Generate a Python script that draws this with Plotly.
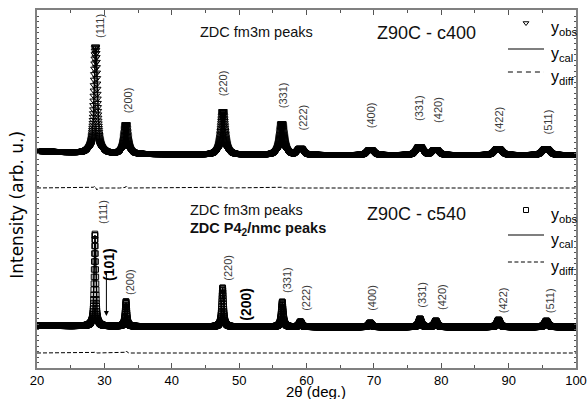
import numpy as np
import plotly.graph_objects as go

# ---------------- data ----------------
two_theta = np.round(np.arange(20.0, 100.0001, 0.02), 4)

hkl_labels = ["(111)", "(200)", "(220)", "(331)", "(222)", "(400)", "(331)", "(420)", "(422)", "(511)"]

# Z90C - c400 : peak positions (deg), heights (arb. u.), FWHM (deg)
c400_pos = [28.70, 33.20, 47.60, 56.35, 59.10, 69.50, 76.80, 79.15, 88.45, 95.55]
c400_height = [106, 27, 42, 30, 6, 5, 8, 5, 6, 6]
c400_fwhm = [0.50, 0.60, 0.65, 0.70, 0.75, 0.85, 0.85, 0.85, 0.95, 0.95]
c400_bg = [213.5, 4.0, 10.0]          # level, low-angle excess, decay (deg)
c400_resid = [(28.55, 2.0, 0.15), (28.85, -2.0, 0.15), (33.25, 2.0, 0.12), (47.6, 0.8, 0.2), (56.3, 0.8, 0.2)]

# Z90C - c540
c540_pos = [28.60, 33.20, 47.55, 56.40, 59.10, 69.45, 76.85, 79.20, 88.50, 95.60]
c540_height = [91, 24, 39, 25, 5, 4, 8, 6, 7, 6]
c540_fwhm = [0.30, 0.32, 0.35, 0.38, 0.45, 0.50, 0.50, 0.50, 0.55, 0.60]
c540_bg = [41.0, 1.5, 15.0]
c540_resid = [(28.6, 1.2, 0.12), (33.3, 2.0, 0.1)]

# stacking offsets of the difference curves
c400_diff_level = 180
c540_diff_level = 15


def pseudo_voigt(x, pos, height, fwhm, eta=0.75):
    y = np.zeros_like(x)
    for p, h, w in zip(pos, height, fwhm):
        u = (x - p) / (w / 2.0)
        y += h * (eta / (1.0 + u * u) + (1 - eta) * np.exp(-np.log(2) * u * u))
    return y


def background(x, bg):
    level, excess, tau = bg
    return level + excess * np.exp(-(x - 20.0) / tau)


def residual(x, items):
    r = np.zeros_like(x)
    for p, a, w in items:
        r += a * np.exp(-((x - p) / w) ** 2)
    return r


c400_cal = background(two_theta, c400_bg) + pseudo_voigt(two_theta, c400_pos, c400_height, c400_fwhm)
c400_res = residual(two_theta, c400_resid)
c400_obs = c400_cal + c400_res

c540_cal = background(two_theta, c540_bg) + pseudo_voigt(two_theta, c540_pos, c540_height, c540_fwhm)
c540_res = residual(two_theta, c540_resid)
c540_obs = c540_cal + c540_res

# ---------------- figure ----------------
FONT = "Liberation Sans"
fig = go.Figure()

for cal, obs, res, lvl, sym, msize in [
    (c400_cal, c400_obs, c400_res, c400_diff_level, "triangle-down-open", 7),
    (c540_cal, c540_obs, c540_res, c540_diff_level, "square-open", 5.5),
]:
    fig.add_trace(go.Scatter(x=two_theta, y=res + lvl, mode="lines",
                             line=dict(color="black", width=1, dash="4px,2px"), hoverinfo="skip"))
    fig.add_trace(go.Scatter(x=two_theta, y=cal, mode="lines",
                             line=dict(color="black", width=1.5), hoverinfo="skip"))
    fig.add_trace(go.Scatter(x=two_theta, y=obs, mode="markers",
                             marker=dict(symbol=sym, size=msize, color="black",
                                         line=dict(color="black", width=1)),
                             hoverinfo="skip"))

annotations = []

# hkl labels: (x position, bottom of the rotated label)
c400_label_x = [29.35, 33.55, 47.65, 56.55, 59.55, 69.6, 76.7, 79.5, 88.5, 95.7]
c400_label_y = [328, 253, 270, 258, 236, 238, 245, 243, 233, 231]
c540_label_x = [29.8, 33.8, 48.3, 57.1, 59.9, 69.7, 77.1, 80.1, 89.2, 96.1]
c540_label_y = [142, 71, 85, 73, 55, 55, 58, 56, 53, 53]

for xs, ys in [(c400_label_x, c400_label_y), (c540_label_x, c540_label_y)]:
    for lab, lx, ly in zip(hkl_labels, xs, ys):
        annotations.append(dict(x=lx, y=ly, text=lab, showarrow=False, textangle=-90,
                                xanchor="center", yanchor="bottom",
                                font=dict(family=FONT, size=11, color="#3a3a3a")))

# tetragonal reflections
annotations.append(dict(x=30.6, y=85, text="<b>(101)</b>", showarrow=False, textangle=-90,
                        xanchor="center", yanchor="bottom",
                        font=dict(family=FONT, size=14, color="black")))
annotations.append(dict(x=30.3, y=52, ax=30.3, ay=98, xref="x", yref="y", axref="x", ayref="y",
                        text="", showarrow=True, arrowhead=2, arrowsize=1, arrowwidth=1,
                        arrowcolor="black"))
annotations.append(dict(x=50.9, y=45, text="<b>(200)</b>", showarrow=False, textangle=-90,
                        xanchor="center", yanchor="bottom",
                        font=dict(family=FONT, size=14, color="black")))

# phase / sample captions
annotations += [
    dict(x=43.9, y=336, text="ZDC fm3m peaks", showarrow=False, xanchor="left", yanchor="middle",
         font=dict(family=FONT, size=14.5, color="#111")),
    dict(x=70.15, y=335, text="Z90C - c400", showarrow=False, xanchor="left", yanchor="middle",
         font=dict(family=FONT, size=18, color="#111")),
    dict(x=42.4, y=158, text="ZDC fm3m peaks", showarrow=False, xanchor="left", yanchor="middle",
         font=dict(family=FONT, size=14.5, color="#111")),
    dict(x=42.4, y=139, text="<b>ZDC P4<sub>2</sub>/nmc peaks</b>", showarrow=False,
         xanchor="left", yanchor="middle", font=dict(family=FONT, size=14.5, color="#111")),
    dict(x=68.7, y=154, text="Z90C - c540", showarrow=False, xanchor="left", yanchor="middle",
         font=dict(family=FONT, size=18, color="#111")),
]

# legends
legend_sets = [
    dict(sym="triangle-down-open", obs_y=345, cal_y=319, diff_y=296, text_dy=-5, dash="5px,4px"),
    dict(sym="square-open", obs_y=158, cal_y=133, diff_y=106, text_dy=-5, dash="4px,2.5px"),
]
shapes = []
for lg in legend_sets:
    fig.add_trace(go.Scatter(x=[92.58], y=[lg["obs_y"]], mode="markers",
                             marker=dict(symbol=lg["sym"], size=5, color="black",
                                         line=dict(color="black", width=1)), hoverinfo="skip"))
    shapes.append(dict(type="line", xref="x", yref="y", x0=89.9, x1=95.25,
                       y0=lg["cal_y"], y1=lg["cal_y"], line=dict(color="black", width=1.2)))
    shapes.append(dict(type="line", xref="x", yref="y", x0=89.9, x1=95.25,
                       y0=lg["diff_y"], y1=lg["diff_y"],
                       line=dict(color="black", width=1, dash=lg["dash"])))
    for lab, yy in [("obs", lg["obs_y"]), ("cal", lg["cal_y"]), ("diff", lg["diff_y"])]:
        annotations.append(dict(x=96.0, y=yy + lg["text_dy"], text="y<sub>%s</sub>" % lab,
                                showarrow=False, xanchor="left", yanchor="middle",
                                font=dict(family=FONT, size=16, color="black")))

# axis titles
annotations.append(dict(xref="paper", yref="paper", x=0.518, y=-0.066, text="2θ (deg.)",
                        showarrow=False, xanchor="center", yanchor="middle",
                        font=dict(family=FONT, size=15, color="black")))
annotations.append(dict(xref="paper", yref="paper", x=-0.037, y=0.456, text="Intensity (arb. u.)",
                        showarrow=False, textangle=-90, xanchor="center", yanchor="middle",
                        font=dict(family="DejaVu Sans", size=17, color="black")))

fig.update_layout(
    width=587, height=399,
    margin=dict(l=37, r=11, t=10, b=31),
    paper_bgcolor="white", plot_bgcolor="white",
    showlegend=False,
    annotations=annotations, shapes=shapes,
    xaxis=dict(range=[20, 100], tickmode="linear", tick0=20, dtick=10, automargin=False,
               ticks="inside", ticklen=5, tickwidth=1, tickcolor="#555",
               minor=dict(ticks="inside", ticklen=3, dtick=5, tickcolor="#555"),
               showline=True, linecolor="#808080", linewidth=1.5, mirror="ticks",
               showgrid=False, zeroline=False,
               tickfont=dict(family=FONT, size=13, color="black")),
    yaxis=dict(range=[0, 358], tickmode="linear", tick0=0, dtick=5.5, automargin=False,
               ticks="inside", ticklen=2, tickwidth=1, tickcolor="#555",
               showticklabels=False,
               showline=True, linecolor="#808080", linewidth=1.5, mirror="ticks",
               showgrid=False, zeroline=False),
)

fig.write_html("out.html")
